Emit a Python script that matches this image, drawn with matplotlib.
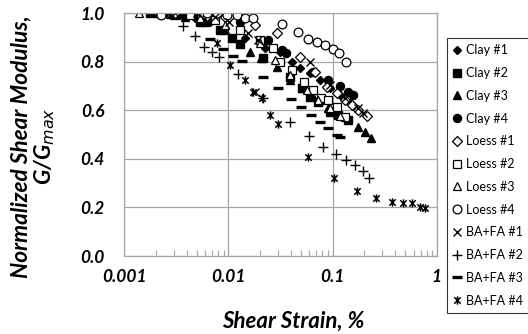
import numpy as np
import matplotlib
matplotlib.use("Agg")
import matplotlib.pyplot as plt
from matplotlib.path import Path
from matplotlib.ticker import LogLocator, FixedLocator, NullFormatter

# ---- data: shear strain (%) and G/Gmax ----
clay1_x = [0.00246, 0.00343, 0.00477, 0.00666, 0.00927, 0.0145, 0.0225, 0.0313, 0.0408, 0.0487, 0.0608, 0.0759, 0.0946, 0.118, 0.147, 0.176]
clay1_y = [1.0, 0.992, 0.979, 0.963, 0.938, 0.897, 0.856, 0.840, 0.798, 0.774, 0.753, 0.724, 0.691, 0.663, 0.630, 0.601]

clay2_x = [0.00177, 0.00307, 0.00534, 0.0083, 0.0108, 0.0129, 0.0215, 0.0391, 0.0510, 0.0608, 0.0726, 0.0946, 0.1135, 0.141]
clay2_y = [1.0, 0.992, 0.963, 0.930, 0.897, 0.872, 0.815, 0.737, 0.690, 0.654, 0.634, 0.593, 0.580, 0.560]

clay3_x = [0.0022, 0.00383, 0.00595, 0.00927, 0.0161, 0.0206, 0.0293, 0.0391, 0.0510, 0.0639, 0.0759, 0.0903, 0.110, 0.141, 0.176, 0.205, 0.234]
clay3_y = [1.0, 0.984, 0.963, 0.930, 0.840, 0.815, 0.778, 0.724, 0.690, 0.663, 0.642, 0.609, 0.589, 0.568, 0.531, 0.510, 0.486]

clay4_x = [0.00197, 0.00383, 0.00743, 0.0129, 0.0240, 0.0327, 0.0357, 0.0650, 0.0903, 0.118, 0.140, 0.157]
clay4_y = [1.0, 0.996, 0.984, 0.963, 0.889, 0.848, 0.835, 0.757, 0.724, 0.700, 0.675, 0.663]

loess1_x = [0.00307, 0.00534, 0.00927, 0.0180, 0.0293, 0.0487, 0.0681, 0.0880, 0.110, 0.132, 0.155, 0.176, 0.214]
loess1_y = [1.0, 0.996, 0.984, 0.951, 0.918, 0.819, 0.757, 0.695, 0.671, 0.642, 0.621, 0.601, 0.576]

loess2_x = [0.0022, 0.00428, 0.00743, 0.0129, 0.0201, 0.0268, 0.0313, 0.0408, 0.0527, 0.0650, 0.0780, 0.0903, 0.110, 0.132]
loess2_y = [1.0, 0.992, 0.971, 0.930, 0.889, 0.856, 0.800, 0.765, 0.716, 0.683, 0.650, 0.642, 0.613, 0.572]

loess3_x = [0.00138, 0.00275, 0.00534, 0.00927, 0.0201, 0.0280, 0.0391, 0.0567, 0.0726, 0.0946, 0.118]
loess3_y = [1.0, 0.996, 0.979, 0.951, 0.877, 0.807, 0.745, 0.683, 0.642, 0.609, 0.576]

loess4_x = [0.00226, 0.00623, 0.00777, 0.0097, 0.0121, 0.0144, 0.0172, 0.0327, 0.0466, 0.0582, 0.0711, 0.0849, 0.101, 0.1156, 0.135]
loess4_y = [0.99, 1.0, 1.0, 0.99, 0.99, 0.98, 0.98, 0.955, 0.92, 0.895, 0.88, 0.87, 0.85, 0.835, 0.80]

bafa1_x = [0.00307, 0.00499, 0.00743, 0.0101, 0.0154, 0.0178, 0.0192, 0.0608, 0.0946, 0.132, 0.176, 0.196]
bafa1_y = [1.0, 1.0, 0.984, 0.963, 0.918, 0.675, 0.889, 0.798, 0.704, 0.650, 0.609, 0.588]

bafa2_x = [0.00366, 0.00478, 0.00583, 0.00696, 0.00812, 0.01236, 0.0215, 0.0391, 0.0594, 0.081, 0.108, 0.135, 0.165, 0.196, 0.224]
bafa2_y = [0.946, 0.905, 0.86, 0.84, 0.82, 0.75, 0.65, 0.55, 0.494, 0.449, 0.42, 0.395, 0.374, 0.35, 0.32]

bafa3_x = [0.00665, 0.00887, 0.01107, 0.01352, 0.0215, 0.0299, 0.0399, 0.0498, 0.0621, 0.0757, 0.0903, 0.110, 0.118]
bafa3_y = [0.893, 0.852, 0.823, 0.802, 0.737, 0.69, 0.646, 0.613, 0.58, 0.551, 0.527, 0.498, 0.49]

bafa4_x = [0.00275, 0.0050, 0.00777, 0.01036, 0.0144, 0.0172, 0.0210, 0.0251, 0.0299, 0.0582, 0.1035, 0.172, 0.262, 0.373, 0.475, 0.58, 0.693, 0.774]
bafa4_y = [0.99, 1.0, 0.875, 0.786, 0.724, 0.675, 0.65, 0.58, 0.543, 0.407, 0.32, 0.267, 0.239, 0.222, 0.218, 0.218, 0.20, 0.198]

labels = ["Clay #1", "Clay #2", "Clay #3", "Clay #4", "Loess #1", "Loess #2", "Loess #3", "Loess #4",
          "BA+FA #1", "BA+FA #2", "BA+FA #3", "BA+FA #4"]
y_ticks = [0.0, 0.2, 0.4, 0.6, 0.8, 1.0]
x_ticks = [0.001, 0.01, 0.1, 1]
x_tick_labels = ["0.001", "0.01", "0.1", "1"]

# star marker: x with vertical bar
star_path = Path([(-1, -1), (1, 1), (-1, 1), (1, -1), (0, -1.3), (0, 1.3)],
                 [Path.MOVETO, Path.LINETO, Path.MOVETO, Path.LINETO, Path.MOVETO, Path.LINETO])

series = [
    (clay1_x, clay1_y, dict(marker="D", ms=4.5, mfc="black", mec="black")),
    (clay2_x, clay2_y, dict(marker="s", ms=5.3, mfc="black", mec="black")),
    (clay3_x, clay3_y, dict(marker="^", ms=6, mfc="black", mec="black")),
    (clay4_x, clay4_y, dict(marker="o", ms=5.8, mfc="black", mec="black")),
    (loess1_x, loess1_y, dict(marker="D", ms=4.8, mfc="white", mec="black", mew=0.9)),
    (loess2_x, loess2_y, dict(marker="s", ms=5.8, mfc="white", mec="black", mew=0.9)),
    (loess3_x, loess3_y, dict(marker="^", ms=6, mfc="white", mec="black", mew=0.9)),
    (loess4_x, loess4_y, dict(marker="o", ms=6.3, mfc="white", mec="black", mew=0.9)),
    (bafa1_x, bafa1_y, dict(marker="x", ms=5.8, mec="black", mew=1.0)),
    (bafa2_x, bafa2_y, dict(marker="+", ms=6.5, mec="black", mew=1.0)),
    (bafa3_x, bafa3_y, dict(marker="_", ms=7, mfc="black", mec="black", mew=2.4)),
    (bafa4_x, bafa4_y, dict(marker=star_path, ms=6, mec="black", mew=1.1)),
]

fig = plt.figure(figsize=(5.28, 3.34), dpi=100)
ax = fig.add_axes([0.2355, 0.2335, 0.827 - 0.2355, 0.961 - 0.2335])

handles = []
for (xs, ys, st), lab in zip(series, labels):
    h, = ax.plot(xs, ys, linestyle="none", color="black", label=lab, **st)
    handles.append(h)

ax.set_xscale("log")
ax.set_xlim(0.001, 1)
ax.set_ylim(0, 1.0)
ax.set_yticks(y_ticks)
ax.set_yticklabels([f"{v:.1f}" for v in y_ticks])
ax.xaxis.set_major_locator(FixedLocator(x_ticks))
ax.set_xticklabels(x_tick_labels)
ax.xaxis.set_minor_locator(LogLocator(base=10, subs=np.arange(2, 10), numticks=20))
ax.xaxis.set_minor_formatter(NullFormatter())

ax.grid(True, which="major", color="#a6a6a6", linewidth=0.9)
ax.set_axisbelow(True)
for s in ax.spines.values():
    s.set_color("#a6a6a6")
    s.set_linewidth(0.9)

font = "Lato"
ax.tick_params(axis="y", which="major", length=0, pad=14)
ax.tick_params(axis="x", which="major", length=0, pad=9)
ax.tick_params(axis="x", which="minor", direction="in", length=4, color="#a6a6a6", width=0.8)
for lab in ax.get_xticklabels() + ax.get_yticklabels():
    lab.set_fontfamily(font)
    lab.set_fontweight("bold")
    lab.set_fontstyle("italic")
    lab.set_fontsize(12.5)

ax.set_xlabel("Shear Strain, %", fontfamily=font, fontweight="bold", fontstyle="italic", fontsize=16)
ax.xaxis.set_label_coords(0.54, -0.27)
ax.xaxis.label.set_va("center")
ax.set_ylabel("Normalized Shear Modulus,\nG/G$_{\\mathit{max}}$", fontfamily=font, fontweight="bold",
              fontstyle="italic", fontsize=16.3, linespacing=1.05)
ax.yaxis.set_label_coords(-0.29, 0.45)
ax.yaxis.label.set_va("center")

leg = fig.legend(handles=handles, loc="upper left", bbox_to_anchor=(0.846, 0.886),
                 frameon=True, fancybox=False, edgecolor="black",
                 prop={"family": "Lato", "size": 9}, handlelength=0.7, handletextpad=0.35,
                 labelspacing=0.86, borderpad=0.5, borderaxespad=0)
leg.get_frame().set_linewidth(0.8)

fig.savefig("out.png", dpi=100)
